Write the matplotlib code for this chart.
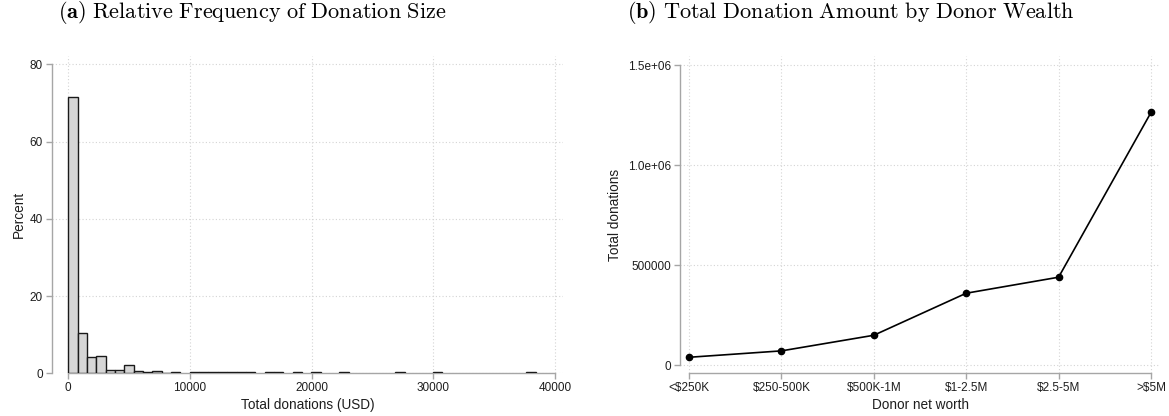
import numpy as np
import matplotlib
matplotlib.use("Agg")
import matplotlib.pyplot as plt

# ---- data -------------------------------------------------------------
# (a) histogram of total donations: 50 equal-width bins starting at 0
bin_start = 0.0
bin_width = 768.0
bin_percent = [
    71.6, 10.5, 4.3, 4.6, 0.95, 0.85, 2.1, 0.7, 0.25, 0.5,
    0.1, 0.25, 0.0, 0.25, 0.25, 0.25, 0.25, 0.25, 0.25, 0.25,
    0.0, 0.25, 0.25, 0.0, 0.25, 0.0, 0.25, 0.0, 0.0, 0.25,
    0.0, 0.0, 0.0, 0.0, 0.0, 0.25, 0.0, 0.0, 0.0, 0.25,
    0.0, 0.0, 0.0, 0.0, 0.0, 0.0, 0.0, 0.0, 0.0, 0.25,
]
hist_xticks = [0, 10000, 20000, 30000, 40000]
hist_yticks = [0, 20, 40, 60, 80]

# (b) total donation amount by donor net worth
wealth_groups = ["<$250K", "$250-500K", "$500K-1M", "$1-2.5M", "$2.5-5M", ">$5M"]
total_donations = [40000, 72000, 150000, 360000, 440000, 1263000]
line_yticks = [0, 500000, 1000000, 1500000]
line_yticklabels = ["0", "500000", "1.0e+06", "1.5e+06"]

# ---- style ------------------------------------------------------------
plt.rcParams["font.family"] = ["Liberation Sans", "DejaVu Sans"]
plt.rcParams["mathtext.fontset"] = "cm"

W, H = 1169, 416
fig = plt.figure(figsize=(W / 100, H / 100), dpi=100)

axis_col = "#a6a6a6"
grid_col = "#d4d4d4"
text_col = "#1e1e1e"


def px_axes(l, t, r, b):
    return fig.add_axes([l / W, 1 - b / H, (r - l) / W, (b - t) / H])


def style_axes(ax):
    for s in ["top", "right"]:
        ax.spines[s].set_visible(False)
    for s in ["left", "bottom"]:
        ax.spines[s].set_color(axis_col)
        ax.spines[s].set_linewidth(1.0)
    ax.tick_params(axis="both", direction="out", length=4, width=1.0,
                   color=axis_col, labelsize=8.5, labelcolor=text_col, pad=2.5)
    ax.grid(True, linestyle=(0, (1, 2)), color=grid_col, linewidth=0.8)
    ax.set_axisbelow(True)


# ---- (a) histogram ----------------------------------------------------
ax1 = px_axes(52, 56, 563, 373.3)
style_axes(ax1)
pct = np.array(bin_percent)
lefts = bin_start + bin_width * np.arange(len(pct))
keep = pct > 0
ax1.bar(lefts[keep], pct[keep], width=bin_width, align="edge",
        facecolor="#d6d6d6", edgecolor="#1a1a1a", linewidth=1.0, zorder=3)
ax1.set_xlim(-1340, 40657)
ax1.set_ylim(0, 82.2)
ax1.set_xticks(hist_xticks)
ax1.set_yticks(hist_yticks)
ax1.spines["left"].set_bounds(0, 80)
ax1.spines["bottom"].set_bounds(0, 40000)
ax1.set_xlabel("Total donations (USD)", fontsize=9.8, color=text_col, labelpad=3)
ax1.set_ylabel("Percent", fontsize=9.8, color=text_col, labelpad=2.5)

# ---- (b) line chart ---------------------------------------------------
ax2 = px_axes(680, 56, 1160, 373.3)
style_axes(ax2)
xpos = np.arange(1, len(wealth_groups) + 1)
ax2.plot(xpos, total_donations, color="black", linewidth=1.2,
         marker="o", markersize=4.5, zorder=3)
ax2.set_xlim(1 - 9 / 92.4, 6 + 9 / 92.4)
ax2.set_ylim(-40000, 1545000)
ax2.set_xticks(xpos)
ax2.set_xticklabels(wealth_groups)
ax2.set_yticks(line_yticks)
ax2.set_yticklabels(line_yticklabels)
ax2.spines["left"].set_bounds(0, 1500000)
ax2.spines["bottom"].set_bounds(1, 6)
ax2.set_xlabel("Donor net worth", fontsize=9.8, color=text_col, labelpad=3)
ax2.set_ylabel("Total donations", fontsize=9.8, color=text_col, labelpad=4.5)

# ---- panel titles -----------------------------------------------------
fig.text(252 / W, 1 - 12 / H,
         r"$\mathbf{(a)}\ \mathrm{Relative\ Frequency\ of\ Donation\ Size}$",
         ha="center", va="center", fontsize=16, color="black")
fig.text(851 / W, 1 - 12 / H,
         r"$\mathbf{(b)}\ \mathrm{Total\ Donation\ Amount\ by\ Donor\ Wealth}$",
         ha="center", va="center", fontsize=16, color="black")

fig.savefig("out.png", dpi=100)
